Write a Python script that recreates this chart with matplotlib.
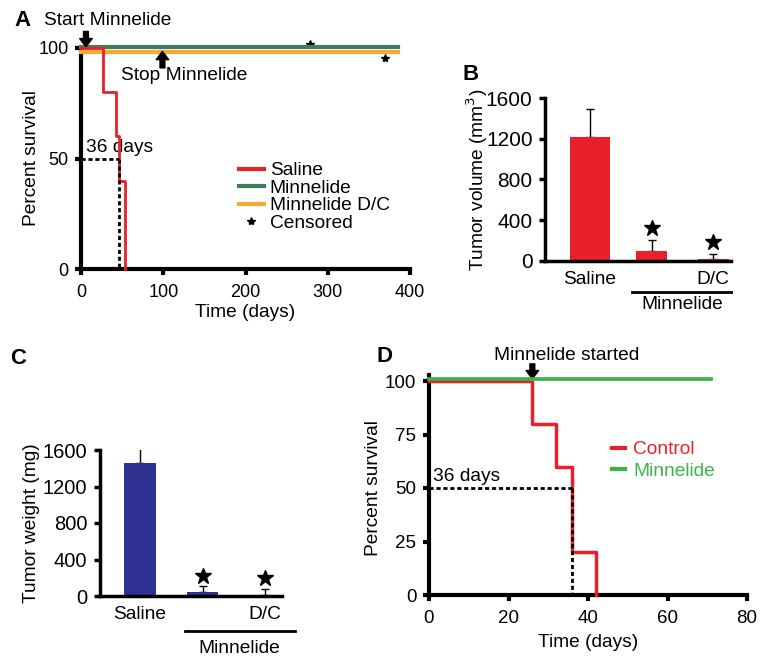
import matplotlib
matplotlib.use("Agg")
import matplotlib.pyplot as plt
from matplotlib.lines import Line2D
from matplotlib import transforms

plt.rcParams['font.family'] = ['Liberation Sans', 'DejaVu Sans']

# ---------------- data ----------------
# Panel A: Kaplan-Meier (days, percent)
a_saline_t = [0, 27, 43, 46, 53]
a_saline_s = [100, 80, 60, 40, 0]
a_minn_t = [0, 385]
a_minn_s = [100, 100]
a_dc_t = [0, 385]
a_dc_s = [100, 100]
a_cens_t = [278, 370]
a_cens_s = [102, 95.5]
a_median = 46

# Panel B: tumor volume
b_labels = ['Saline', '', 'D/C']
b_values = [1215, 100, 20]
b_err = [275, 105, 50]
b_star = [325, 190]

# Panel C: tumor weight
c_labels = ['Saline', '', 'D/C']
c_values = [1460, 45, 15]
c_err = [185, 65, 60]
c_star = [220, 200]

# Panel D
d_ctrl_t = [0, 26, 32, 36, 42]
d_ctrl_s = [100, 80, 60, 20, 0]
d_minn_t = [0, 71]
d_minn_s = [100, 100]
d_median = 36

RED = '#e8202a'
GREEN_A = '#3f7c5c'
ORANGE = '#f7a935'
GREEN_D = '#3cb44a'
BLUE = '#2e3192'
FS = 13.8

W, H = 764, 663
fig = plt.figure(figsize=(W / 100, H / 100), dpi=100)


def ax_px(l, r, b, t):
    return fig.add_axes([l / W, 1 - b / H, (r - l) / W, (b - t) / H])


def style(ax, lw, tfs):
    for s in ['top', 'right']:
        ax.spines[s].set_visible(False)
    for s in ['left', 'bottom']:
        ax.spines[s].set_linewidth(lw)
    ax.tick_params(width=lw, length=4, labelsize=tfs, direction='out', pad=5)


ARROW = dict(arrowstyle='simple,head_width=0.9,head_length=0.6,tail_width=0.35',
             color='black', shrinkA=0, shrinkB=0)

# ---------------- Panel A ----------------
axA = ax_px(81, 410, 269, 48)
style(axA, 3, 13)
axA.set_xlim(0, 400)
axA.set_ylim(0, 100)
axA.step(a_minn_t, [v + 0.6 for v in a_minn_s], where='post', color=GREEN_A, lw=3, clip_on=False, zorder=3)
axA.step(a_dc_t, [v - 1.6 for v in a_dc_s], where='post', color=ORANGE, lw=3, clip_on=False, zorder=3)
axA.step(a_saline_t + [a_saline_t[-1]], a_saline_s + [0], where='post', color=RED, lw=2, clip_on=False, zorder=4)
axA.plot([0, a_median], [50, 50], ls=(0, (1.5, 1)), color='black', lw=2, zorder=5)
axA.plot([a_median, a_median], [50, 0], ls=(0, (1.5, 1)), color='black', lw=2, zorder=5)
axA.plot(a_cens_t, a_cens_s, ls='none', marker='*', color='black', ms=6, clip_on=False)
axA.text(6, 51, '36 days', fontsize=FS, va='bottom', ha='left')
axA.set_xticks([0, 100, 200, 300, 400])
axA.set_yticks([0, 50, 100])
axA.tick_params(axis='x', pad=7)
axA.set_xlabel('Time (days)', fontsize=FS, labelpad=2)
axA.set_ylabel('Percent survival', fontsize=FS)
axA.yaxis.set_label_coords(-0.125, 0.5)
axA.annotate('', xy=(6, 100.5), xytext=(6, 107.5), annotation_clip=False, arrowprops=ARROW)
axA.text(32, 112.5, 'Start Minnelide', fontsize=FS, ha='center', va='center')
axA.annotate('', xy=(99, 98.5), xytext=(99, 91), annotation_clip=False, arrowprops=ARROW)
axA.text(125, 87.5, 'Stop Minnelide', fontsize=FS, ha='center', va='center')
hA = [Line2D([], [], color=RED, lw=3),
      Line2D([], [], color=GREEN_A, lw=3),
      Line2D([], [], color=ORANGE, lw=3),
      Line2D([], [], ls='none', marker='*', color='black', ms=6)]
axA.legend(hA, ['Saline', 'Minnelide', 'Minnelide D/C', 'Censored'], frameon=False, fontsize=FS,
           handlelength=1.3, handletextpad=0.3, labelspacing=0.0, borderpad=0, borderaxespad=0,
           loc='upper left', bbox_to_anchor=(239 / W, 1 - 162 / H), bbox_transform=fig.transFigure)
fig.text(14 / W, 1 - 20 / H, 'A', fontsize=16, fontweight='bold', ha='left', va='center')


# ---------------- bar panels ----------------
def bar_panel(ax, labels, values, err, stars, color, widths, ylab, line_x, line_y, lab_xy, tfs):
    style(ax, 2.5, tfs)
    x = list(range(len(values)))
    ax.bar(x, values, width=widths, color=color, zorder=2)
    for xi, v, e in zip(x, values, err):
        ax.errorbar([xi], [v], yerr=[[0], [e]], fmt='none', ecolor='black', elinewidth=1,
                    capsize=3, capthick=1, zorder=1)
    ax.plot(x[1:], stars, ls='none', marker='*', color='black', ms=12)
    ax.set_ylim(0, 1600)
    ax.set_yticks([0, 400, 800, 1200, 1600])
    ax.set_xticks(x)
    ax.set_xticklabels(labels, fontsize=FS)
    ax.tick_params(axis='x', length=0, pad=7)
    ax.set_ylabel(ylab, fontsize=FS)
    tr = transforms.blended_transform_factory(ax.transData, ax.transAxes)
    ax.plot(line_x, [line_y, line_y], color='black', lw=2, transform=tr, clip_on=False)
    ax.text(lab_xy[0], lab_xy[1], 'Minnelide', fontsize=FS, ha='center', va='center',
            transform=tr)


axB = ax_px(545, 731, 261, 98)
axB.set_xlim(-0.73, 2.29)
bar_panel(axB, b_labels, b_values, b_err, b_star, RED, [0.65, 0.5, 0.5],
          'Tumor volume (mm$^3$)', [0.68, 2.29], -0.19, (1.5, -0.265), 15)
axB.yaxis.set_label_coords(-0.296, 0.5)
fig.text(462 / W, 1 - 75 / H, 'B', fontsize=16, fontweight='bold', ha='left', va='center')

axC = ax_px(100, 282, 596, 450)
axC.set_xlim(-0.64, 2.27)
bar_panel(axC, c_labels, c_values, c_err, c_star, BLUE, [0.5, 0.5, 0.5],
          'Tumor weight (mg)', [0.72, 2.48], -0.24, (1.59, -0.36), 14.5)
axC.yaxis.set_label_coords(-0.33, 0.5)
fig.text(10 / W, 1 - 358 / H, 'C', fontsize=16, fontweight='bold', ha='left', va='center')

# ---------------- Panel D ----------------
axD = ax_px(429, 747, 595, 381)
style(axD, 3, 13.5)
axD.set_xlim(0, 80)
axD.set_ylim(0, 100)
axD.spines['left'].set_bounds(0, 103)
axD.step(d_minn_t, [v + 0.8 for v in d_minn_s], where='post', color=GREEN_D, lw=2.7, clip_on=False, zorder=4)
axD.step(d_ctrl_t + [d_ctrl_t[-1]], d_ctrl_s + [0], where='post', color=RED, lw=2.5, clip_on=False, zorder=3)
axD.plot([0, d_median], [50, 50], ls=(0, (1.5, 1)), color='black', lw=2, zorder=5)
axD.plot([d_median, d_median], [50, 0], ls=(0, (1.5, 1)), color='black', lw=2, zorder=5)
axD.text(1, 51.5, '36 days', fontsize=FS, va='bottom', ha='left')
axD.set_xticks([0, 20, 40, 60, 80])
axD.set_yticks([0, 25, 50, 75, 100])
axD.tick_params(axis='x', pad=7)
axD.set_xlabel('Time (days)', fontsize=FS, labelpad=5)
axD.set_ylabel('Percent survival', fontsize=FS)
axD.yaxis.set_label_coords(-0.148, 0.5)
axD.annotate('', xy=(26, 101), xytext=(26, 108), annotation_clip=False, arrowprops=ARROW)
axD.text(34.5, 112, 'Minnelide started', fontsize=FS, ha='center', va='center')
hD = [Line2D([], [], color=RED, lw=3), Line2D([], [], color=GREEN_D, lw=3)]
axD.legend(hD, ['Control', 'Minnelide'], frameon=False, fontsize=FS, labelcolor=[RED, GREEN_D],
           handlelength=0.7, handletextpad=0.4, labelspacing=0.2, borderpad=0, borderaxespad=0,
           loc='upper left', bbox_to_anchor=(612 / W, 1 - 441 / H), bbox_transform=fig.transFigure)
fig.text(376 / W, 1 - 356 / H, 'D', fontsize=16, fontweight='bold', ha='left', va='center')

fig.savefig('out.png', dpi=100)
